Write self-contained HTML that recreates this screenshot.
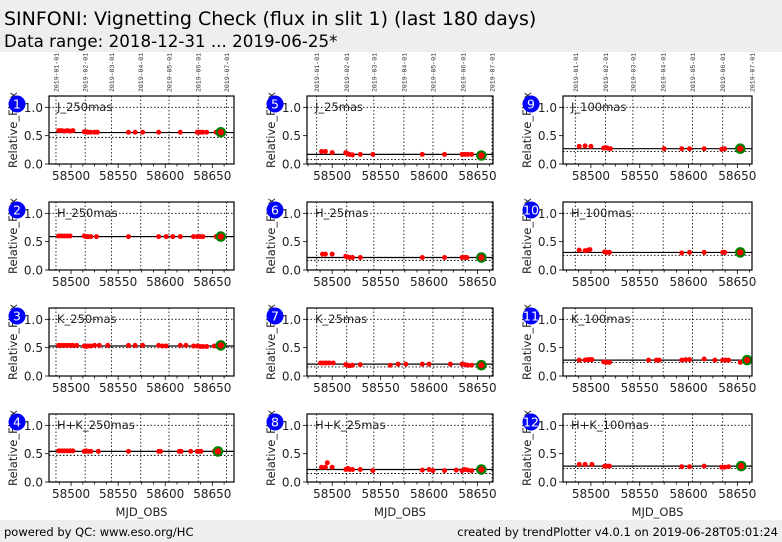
<!DOCTYPE html>
<html><head><meta charset="utf-8"><style>
body{margin:0;width:782px;height:542px;overflow:hidden;background:#fff;font-family:"DejaVu Sans","Liberation Sans",sans-serif}
svg{position:absolute;left:0;top:0}
</style></head><body>
<svg id="c" width="782" height="542">
<rect x="0" y="0" width="782" height="52" fill="#eeeeee"/>
<text x="4" y="25" font-size="19" fill="#000">SINFONI: Vignetting Check (flux in slit 1) (last 180 days)</text>
<text x="4" y="47" font-size="16.7" fill="#000">Data range: 2018-12-31 ... 2019-06-25*</text>
<rect x="0" y="520" width="782" height="22" fill="#eeeeee"/>
<text x="4" y="536" font-size="11.5">powered by QC: www.eso.org/HC</text>
<text x="778" y="536" font-size="11.5" text-anchor="end">created by trendPlotter v4.0.1 on 2019-06-28T05:01:24</text>
</svg>
<script>
const panelNames=["J_250mas","H_250mas","K_250mas","H+K_250mas","J_25mas","H_25mas","K_25mas","H+K_25mas","J_100mas","H_100mas","K_100mas","H+K_100mas"];
const medians=[0.555,0.59,0.53,0.54,0.17,0.22,0.21,0.22,0.27,0.31,0.28,0.28];
const lows=[0.47,0.585,0.50,0.47,0.08,0.17,0.16,0.15,0.22,0.26,0.24,0.24];
const greenMjd=[58659,58659,58659,58656,58654,58654,58654,58654,58653,58653,58660,58654];
const greenFlux=[0.56,0.59,0.54,0.54,0.15,0.22,0.19,0.22,0.27,0.31,0.28,0.28];
const mjds=[
[58487,58490,58493,58496,58499,58502,58514,58516,58518,58521,58525,58528,58561,58568,58576,58593,58616,58634,58636,58638,58640,58644,58654],
[58487,58490,58493,58496,58499,58514,58516,58518,58521,58527,58561,58593,58601,58608,58616,58630,58634,58637,58640,58654],
[58487,58490,58493,58496,58499,58502,58506,58514,58516,58518,58521,58525,58530,58539,58561,58568,58576,58593,58597,58601,58616,58622,58630,58634,58637,58640,58644,58652,58655],
[58487,58490,58493,58496,58499,58502,58514,58516,58518,58521,58529,58561,58593,58595,58615,58617,58627,58634,58636,58638,58652],
[58489,58493,58500,58514,58516,58518,58521,58529,58542,58593,58616,58634,58637,58640,58644],
[58490,58493,58500,58514,58516,58518,58521,58529,58593,58616,58634,58637,58639],
[58488,58491,58494,58497,58501,58514,58516,58518,58521,58529,58560,58568,58576,58593,58600,58622,58634,58637,58640,58644],
[58489,58493,58495,58500,58514,58516,58518,58521,58529,58542,58593,58600,58604,58616,58628,58634,58637,58640,58644],
[58488,58494,58500,58513,58515,58517,58520,58575,58593,58601,58616,58634,58637],
[58488,58494,58497,58499,58514,58516,58519,58593,58601,58616,58635,58637],
[58488,58494,58497,58499,58501,58513,58516,58519,58559,58567,58570,58593,58597,58601,58616,58627,58635,58638,58641,58653],
[58488,58494,58501,58514,58516,58519,58593,58601,58616,58634,58637,58641]];
const fluxes=[
[0.59,0.59,0.58,0.59,0.58,0.59,0.57,0.57,0.56,0.56,0.56,0.56,0.56,0.56,0.56,0.56,0.56,0.56,0.56,0.56,0.56,0.56,0.56],
[0.60,0.60,0.60,0.60,0.60,0.60,0.59,0.59,0.59,0.59,0.59,0.59,0.59,0.59,0.59,0.59,0.59,0.59,0.59,0.59],
[0.54,0.54,0.54,0.54,0.54,0.54,0.54,0.53,0.52,0.53,0.53,0.54,0.54,0.54,0.54,0.54,0.54,0.54,0.53,0.53,0.54,0.54,0.53,0.53,0.52,0.52,0.52,0.53,0.53],
[0.55,0.55,0.55,0.55,0.55,0.55,0.54,0.55,0.54,0.54,0.54,0.54,0.54,0.54,0.54,0.54,0.54,0.54,0.54,0.54,0.54],
[0.22,0.22,0.20,0.20,0.18,0.17,0.16,0.17,0.17,0.17,0.17,0.17,0.17,0.17,0.17],
[0.28,0.28,0.28,0.24,0.23,0.22,0.22,0.22,0.22,0.22,0.22,0.22,0.22],
[0.23,0.23,0.23,0.23,0.23,0.20,0.19,0.18,0.19,0.20,0.19,0.21,0.21,0.21,0.21,0.21,0.21,0.20,0.19,0.19],
[0.26,0.26,0.34,0.26,0.22,0.24,0.22,0.22,0.22,0.20,0.21,0.22,0.20,0.20,0.21,0.20,0.22,0.21,0.20],
[0.31,0.32,0.31,0.28,0.29,0.28,0.27,0.27,0.27,0.27,0.27,0.26,0.27],
[0.35,0.34,0.35,0.36,0.32,0.31,0.31,0.30,0.31,0.31,0.31,0.31],
[0.28,0.28,0.29,0.29,0.29,0.25,0.24,0.24,0.28,0.28,0.28,0.28,0.29,0.29,0.30,0.28,0.28,0.28,0.28,0.24],
[0.31,0.31,0.31,0.28,0.28,0.28,0.27,0.27,0.28,0.26,0.26,0.27]];
const monthMjd=[58484,58515,58543,58574,58604,58635,58665];
const monthLabels=["2019-01-01","2019-02-01","2019-03-01","2019-04-01","2019-05-01","2019-06-01","2019-07-01"];
const xTicks=[58500,58550,58600,58650];
const yTicks=[0,0.5,1.0];

const NS="http://www.w3.org/2000/svg";
const svg=document.getElementById('c');
const colL=[49,307,563], colR=[234,493,752];
const colX0=[58476.6,58474,58471.4], colX1=[58673,58666,58665];
const rowT=[96,202,308,414], rowH=68, yMax=1.2;
function mk(tag,attrs,parent){const e=document.createElementNS(NS,tag);for(const k in attrs)e.setAttribute(k,attrs[k]);(parent||svg).appendChild(e);return e;}
for(let p=0;p<12;p++){
  const col=Math.floor(p/4), row=p%4;
  const L=colL[col], R=colR[col], T=rowT[row], B=T+rowH;
  const sx=v=>L+(v-colX0[col])/(colX1[col]-colX0[col])*(R-L);
  const sy=v=>B-v/yMax*rowH;
  const g=mk('g',{});
  
  
  monthMjd.forEach((m,i)=>{
    const x=sx(m);
    const ln=mk('line',{x1:x,x2:x,y1:T,y2:B,stroke:'#000','stroke-width':0.8,'stroke-dasharray':'1.5,2'},g);
    
    
    if(row===0){
      const t=mk('text',{x:0,y:0,'font-size':6.5,fill:'#333','font-family':'Liberation Mono, monospace',transform:`translate(${x+2.5},${T-4}) rotate(-90)`},g);
      t.textContent=monthLabels[i];
      
      
    }
  });
  const h1=mk('line',{x1:L,x2:R,y1:sy(1),y2:sy(1),stroke:'#000','stroke-width':0.8,'stroke-dasharray':'1.5,2'},g);
  
  
  const hl=mk('line',{x1:L,x2:R,y1:sy(lows[p]),y2:sy(lows[p]),stroke:'#000','stroke-width':0.9,'stroke-dasharray':'1.5,2'},g);
  
  
  const hm=mk('line',{x1:L,x2:R,y1:sy(medians[p]),y2:sy(medians[p]),stroke:'#000','stroke-width':1.2},g);
  
  
  mjds[p].forEach((m,i)=>{
    const c=mk('circle',{cx:sx(m),cy:sy(fluxes[p][i]),r:2.5,fill:'#ff0000'},g);
    
    
  });
  const gc=mk('circle',{cx:sx(greenMjd[p]),cy:sy(greenFlux[p]),r:4.2,fill:'#ff0000',stroke:'#008000','stroke-width':2.2},g);
  
  
  const fr=mk('rect',{x:L,y:T,width:R-L,height:rowH,fill:'none',stroke:'#000','stroke-width':1.2},g);
  
  
  for(let v=58475;v<=colX1[col];v+=12.5){
    if(v<colX0[col])continue;
    const x=sx(v), major=(v%50===0);
    mk('line',{x1:x,x2:x,y1:B,y2:B+(major?4:2.5),stroke:'#000','stroke-width':0.8},g);
  }
  xTicks.forEach(v=>{
    const t=mk('text',{x:sx(v),y:B+16,'font-size':12,'text-anchor':'middle',fill:'#222'},g);
    t.textContent=v;
    
    
  });
  yTicks.forEach(v=>{
    mk('line',{x1:L-4,x2:L,y1:sy(v),y2:sy(v),stroke:'#000','stroke-width':0.8},g);
    const t=mk('text',{x:L-6,y:sy(v)+4.5,'font-size':12,'text-anchor':'end',fill:'#222'},g);
    t.textContent=v.toFixed(1);
    
    
  });
  const yl=mk('text',{x:0,y:0,'font-size':11.5,'text-anchor':'middle',fill:'#222',transform:`translate(${L-32},${T+rowH/2}) rotate(-90)`},g);
  yl.textContent='Relative_Flux';
  
  
  const nm=mk('text',{x:L+8,y:T+15,'font-size':11.5,fill:'#222'},g);
  nm.textContent=panelNames[p];
  
  
  const bx=L-32, by=T+8;
  const bc=mk('circle',{cx:bx,cy:by,r:8.5,fill:'#0000ff'},g);
  
  
  const bt=mk('text',{x:bx,y:by+4.5,'font-size':12.5,'text-anchor':'middle',fill:'#fff'},g);
  bt.textContent=p+1;
  
  
  if(row===3){
    const xl=mk('text',{x:(L+R)/2,y:516,'font-size':11.5,'text-anchor':'middle',fill:'#222'},g);
    xl.textContent='MJD_OBS';
    
    
  }
}
</script>
</body></html>
